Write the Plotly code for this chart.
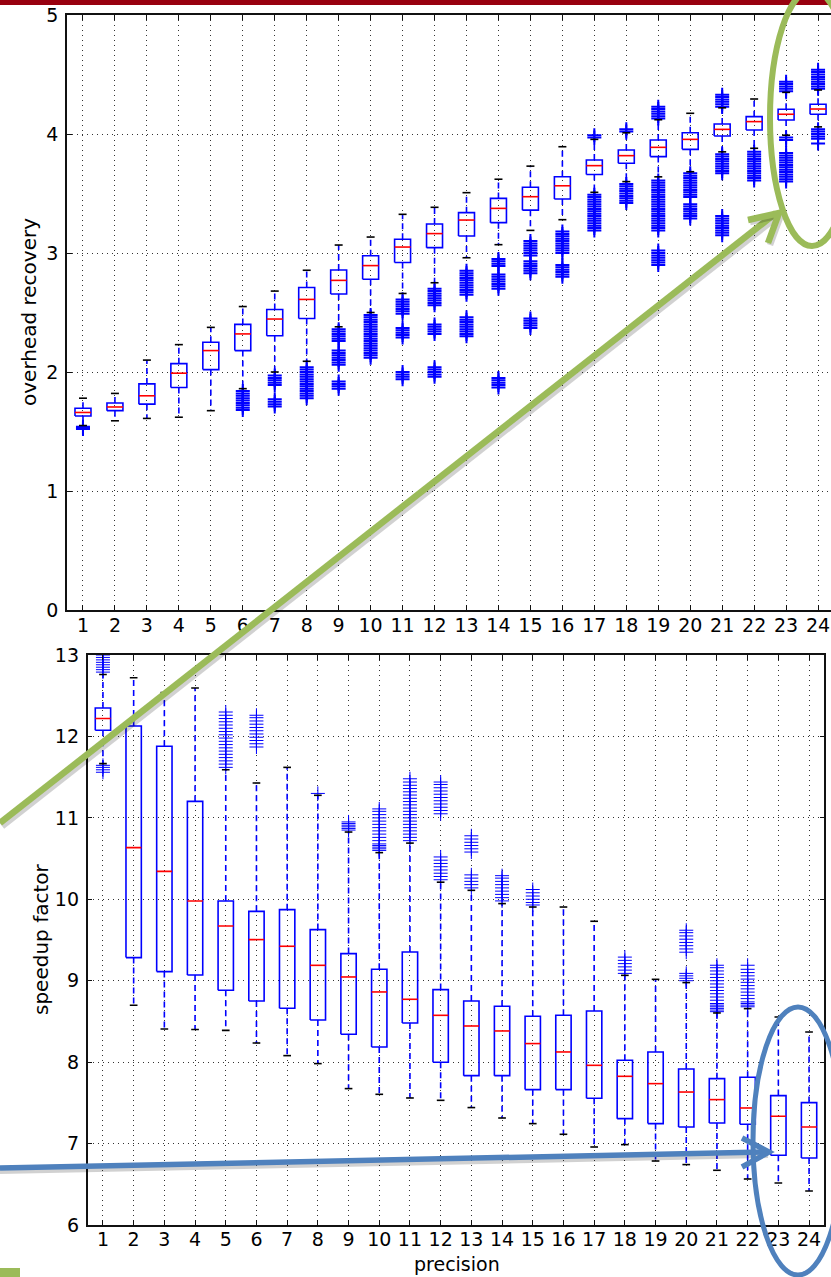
import plotly.graph_objects as go

W, H = 831, 1277

precision = list(range(1, 25))
tick_labels = [str(p) for p in precision]

# ---------------- top chart: overhead recovery ----------------
oh_low = [1.55, 1.59, 1.61, 1.62, 1.675, 1.86, 2.00, 2.09, 2.38, 2.50, 2.66, 2.75,
          2.96, 3.07, 3.19, 3.28, 3.51, 3.60, 3.64, 3.683, 3.85, 3.88, 3.99, 4.06]
oh_q1 = [1.63, 1.675, 1.73, 1.87, 2.02, 2.18, 2.305, 2.45, 2.655, 2.78, 2.92, 3.045,
         3.143, 3.255, 3.36, 3.454, 3.66, 3.754, 3.81, 3.871, 3.983, 4.034, 4.118, 4.166]
oh_med = [1.66, 1.706, 1.80, 1.99, 2.18, 2.32, 2.445, 2.61, 2.77, 2.894, 3.05, 3.163,
          3.277, 3.375, 3.473, 3.565, 3.734, 3.818, 3.888, 3.955, 4.039, 4.104, 4.166, 4.21]
oh_q3 = [1.695, 1.74, 1.90, 2.07, 2.25, 2.40, 2.525, 2.71, 2.857, 2.977, 3.115, 3.244,
         3.339, 3.459, 3.552, 3.641, 3.782, 3.866, 3.95, 4.011, 4.084, 4.146, 4.208, 4.25]
oh_high = [1.78, 1.82, 2.10, 2.23, 2.375, 2.55, 2.68, 2.855, 3.067, 3.134, 3.325, 3.384,
           3.507, 3.62, 3.73, 3.893, 3.955, 4.01, 4.12, 4.174, 4.22, 4.294, 4.35, 4.37]
oh_outliers = [
    [1.52, 1.53, 1.54],
    [],
    [],
    [],
    [],
    [1.68, 1.70, 1.72, 1.74, 1.76, 1.78, 1.80, 1.82, 1.84],
    [1.71, 1.73, 1.75, 1.77, 1.89, 1.91, 1.93, 1.95, 1.97],
    [1.78, 1.80, 1.82, 1.84, 1.86, 1.88, 1.90, 1.92, 1.94, 1.96, 1.98, 2.00, 2.02, 2.04],
    [1.86, 1.88, 1.90, 1.92, 2.06, 2.08, 2.10, 2.12, 2.14, 2.16, 2.18,
     2.26, 2.28, 2.30, 2.32, 2.34, 2.36],
    [2.12, 2.14, 2.16, 2.18, 2.20, 2.22, 2.24, 2.26, 2.28, 2.30, 2.32, 2.34, 2.36,
     2.38, 2.40, 2.42, 2.44, 2.46, 2.48],
    [1.94, 1.96, 1.98, 2.00, 2.29, 2.31, 2.33, 2.35, 2.37,
     2.49, 2.51, 2.53, 2.55, 2.57, 2.59, 2.61],
    [1.96, 1.98, 2.00, 2.02, 2.04, 2.32, 2.34, 2.36, 2.38, 2.40,
     2.56, 2.58, 2.60, 2.62, 2.64, 2.66, 2.68, 2.70],
    [2.30, 2.32, 2.34, 2.36, 2.38, 2.40, 2.42, 2.44, 2.46,
     2.65, 2.67, 2.69, 2.71, 2.73, 2.75, 2.77, 2.79, 2.81, 2.83, 2.85],
    [1.87, 1.89, 1.91, 1.93, 1.95, 2.70, 2.72, 2.74, 2.76, 2.78, 2.80, 2.82,
     2.89, 2.91, 2.93, 2.95],
    [2.37, 2.39, 2.41, 2.43, 2.45, 2.83, 2.85, 2.87, 2.89, 2.91, 2.93,
     2.98, 3.00, 3.02, 3.04, 3.06, 3.08, 3.10],
    [2.80, 2.82, 2.84, 2.86, 2.88, 2.90, 3.00, 3.02, 3.04, 3.06, 3.08, 3.10,
     3.12, 3.14, 3.16, 3.18],
    [3.19, 3.21, 3.23, 3.25, 3.27, 3.29, 3.31, 3.33, 3.35, 3.37, 3.39, 3.41,
     3.43, 3.45, 3.47, 3.49, 3.97, 3.99],
    [3.42, 3.44, 3.46, 3.48, 3.50, 3.52, 3.54, 3.56, 3.58, 4.02, 4.04],
    [2.90, 2.92, 2.94, 2.96, 2.98, 3.00, 3.02,
     3.19, 3.21, 3.23, 3.25, 3.27, 3.29, 3.31, 3.33, 3.35, 3.37, 3.39, 3.41,
     3.43, 3.45, 3.47, 3.49, 3.51, 3.53, 3.55, 3.57, 3.59, 3.61,
     4.13, 4.15, 4.17, 4.19, 4.21, 4.23],
    [3.29, 3.31, 3.33, 3.35, 3.37, 3.39, 3.41,
     3.47, 3.49, 3.51, 3.53, 3.55, 3.57, 3.59, 3.61, 3.63, 3.65, 3.67],
    [3.15, 3.17, 3.19, 3.21, 3.23, 3.25, 3.27, 3.29, 3.31,
     3.67, 3.69, 3.71, 3.73, 3.75, 3.77, 3.79, 3.81, 3.83,
     4.23, 4.25, 4.27, 4.29, 4.31, 4.33],
    [3.61, 3.63, 3.65, 3.67, 3.69, 3.71, 3.73, 3.75, 3.77, 3.79, 3.81, 3.83, 3.85],
    [3.60, 3.62, 3.64, 3.66, 3.68, 3.70, 3.72, 3.74, 3.76, 3.78, 3.80, 3.82, 3.84,
     3.95, 3.97, 4.36, 4.38, 4.40, 4.42, 4.44],
    [3.92, 3.96, 3.98, 4.00, 4.02, 4.04,
     4.38, 4.40, 4.42, 4.44, 4.46, 4.48, 4.50, 4.52, 4.54],
]

# ---------------- bottom chart: speedup factor ----------------
sp_low = [11.666, 8.698, 8.407, 8.40, 8.39, 8.235, 8.08, 7.982, 7.675, 7.605, 7.56, 7.531,
          7.442, 7.314, 7.245, 7.114, 6.958, 6.987, 6.786, 6.742, 6.672, 6.565, 6.516, 6.418]
sp_q1 = [12.075, 9.284, 9.112, 9.07, 8.882, 8.751, 8.661, 8.518, 8.342, 8.186, 8.48, 7.998,
         7.834, 7.834, 7.663, 7.663, 7.556, 7.306, 7.245, 7.204, 7.253, 7.237, 6.856, 6.823]
sp_med = [12.22, 10.634, 10.343, 9.979, 9.672, 9.505, 9.423, 9.189, 9.046, 8.862, 8.772, 8.575,
          8.444, 8.383, 8.228, 8.125, 7.961, 7.826, 7.736, 7.633, 7.54, 7.437, 7.335, 7.204]
sp_q3 = [12.35, 12.128, 11.879, 11.203, 9.979, 9.852, 9.873, 9.628, 9.333, 9.14, 9.353, 8.891,
         8.751, 8.686, 8.563, 8.575, 8.628, 8.023, 8.125, 7.916, 7.797, 7.814, 7.589, 7.503]
sp_high = [12.76, 12.72, 12.54, 12.595, 11.59, 11.428, 11.62, 11.277, 10.826, 10.573, 10.69, 10.21,
           10.11, 9.947, 9.905, 9.905, 9.73, 9.066, 9.017, 8.977, 8.604, 8.657, 8.555, 8.37]
sp_outliers = [
    [11.56, 11.59, 11.62, 11.645, 12.79, 12.82, 12.85, 12.88, 12.91, 12.94, 12.97, 13.0, 13.03],
    [],
    [],
    [],
    [11.62, 11.66, 11.70, 11.74, 11.78, 11.82, 11.86, 11.90, 11.94, 11.98, 12.02,
     12.06, 12.10, 12.14, 12.18, 12.22, 12.26, 12.30],
    [11.87, 11.91, 11.95, 11.99, 12.03, 12.07, 12.11, 12.15, 12.19, 12.23, 12.26],
    [],
    [11.30],
    [10.85, 10.87, 10.89, 10.91, 10.93, 10.95],
    [10.60, 10.62, 10.64, 10.66, 10.68, 10.72, 10.76, 10.80, 10.84, 10.88, 10.92,
     10.96, 11.00, 11.04, 11.08, 11.11],
    [10.72, 10.76, 10.80, 10.84, 10.88, 10.92, 10.96, 11.00, 11.04, 11.08, 11.12,
     11.16, 11.20, 11.24, 11.28, 11.32, 11.36, 11.40, 11.44, 11.48],
    [10.24, 10.28, 10.32, 10.36, 10.40, 10.44, 10.48, 10.52,
     11.05, 11.09, 11.13, 11.17, 11.21, 11.25, 11.29, 11.33, 11.37, 11.41, 11.44],
    [10.14, 10.18, 10.22, 10.26, 10.30, 10.58, 10.62, 10.66, 10.70, 10.74, 10.78],
    [9.98, 10.02, 10.06, 10.10, 10.14, 10.18, 10.22, 10.26, 10.29],
    [9.93, 9.96, 10.00, 10.04, 10.08, 10.12],
    [],
    [],
    [9.09, 9.13, 9.17, 9.21, 9.25, 9.29],
    [],
    [9.00, 9.03, 9.06, 9.09, 9.35, 9.39, 9.43, 9.47, 9.51, 9.55, 9.59, 9.62],
    [8.62, 8.64, 8.66, 8.68, 8.70, 8.72, 8.76, 8.80, 8.84, 8.88, 8.92, 8.96,
     9.00, 9.04, 9.08, 9.12, 9.16, 9.19],
    [8.68, 8.70, 8.72, 8.74, 8.78, 8.82, 8.86, 8.90, 8.94, 8.98, 9.02, 9.06,
     9.10, 9.14, 9.19],
    [],
    [],
]

BLUE = "#0000FF"
RED = "#FF0000"
FONT = "DejaVu Sans"

fig = go.Figure()


def add_boxplot(lo, q1, med, q3, hi, outl, xa, ya, out_lw):
    hw, cw = 0.25, 0.125
    ox, oy = [], []
    for p, vals in zip(precision, outl):
        ox += [p] * len(vals)
        oy += vals
    fig.add_trace(go.Scatter(x=ox, y=oy, mode="markers", xaxis=xa, yaxis=ya,
                             marker=dict(symbol="cross-thin", size=10,
                                         line=dict(color=BLUE, width=out_lw)),
                             showlegend=False, hoverinfo="skip"))
    wx, wy = [], []
    for p, a, b, c, d in zip(precision, lo, q1, q3, hi):
        wx += [p, p, None, p, p, None]
        wy += [c, d, None, b, a, None]
    fig.add_trace(go.Scatter(x=wx, y=wy, mode="lines", xaxis=xa, yaxis=ya,
                             line=dict(color=BLUE, width=1.6, dash="6px,4px"),
                             showlegend=False, hoverinfo="skip"))
    bx, by = [], []
    for p, b, c in zip(precision, q1, q3):
        bx += [p - hw, p + hw, p + hw, p - hw, p - hw, None]
        by += [b, b, c, c, b, None]
    fig.add_trace(go.Scatter(x=bx, y=by, mode="lines", xaxis=xa, yaxis=ya,
                             line=dict(color=BLUE, width=1.6),
                             showlegend=False, hoverinfo="skip"))
    cx, cy = [], []
    for p, a, d in zip(precision, lo, hi):
        cx += [p - cw, p + cw, None, p - cw, p + cw, None]
        cy += [a, a, None, d, d, None]
    fig.add_trace(go.Scatter(x=cx, y=cy, mode="lines", xaxis=xa, yaxis=ya,
                             line=dict(color="black", width=1.6),
                             showlegend=False, hoverinfo="skip"))
    mx, my = [], []
    for p, m in zip(precision, med):
        mx += [p - hw, p + hw, None]
        my += [m, m, None]
    fig.add_trace(go.Scatter(x=mx, y=my, mode="lines", xaxis=xa, yaxis=ya,
                             line=dict(color=RED, width=1.6),
                             showlegend=False, hoverinfo="skip"))


add_boxplot(oh_low, oh_q1, oh_med, oh_q3, oh_high, oh_outliers, "x", "y", 2)
add_boxplot(sp_low, sp_q1, sp_med, sp_q3, sp_high, sp_outliers, "x2", "y2", 1)


def px(x):
    return x / W


def py(y):
    return 1 - y / H


axis_common = dict(
    showgrid=True, gridcolor="#333333", gridwidth=1, griddash="1px,4px",
    showline=True, linecolor="#111111", linewidth=1.6,
    ticks="inside", ticklen=5, tickcolor="#111111", tickwidth=1,
    zeroline=False, automargin=False,
    tickfont=dict(family=FONT, size=19, color="black"),
)

top_x_right = 0.5 + (W - 67) / 31.96

fig.update_layout(
    template="none",
    width=W, height=H, autosize=False,
    margin=dict(l=0, r=0, t=0, b=0, pad=0),
    paper_bgcolor="white", plot_bgcolor="white",
    showlegend=False,
    xaxis=dict(domain=[px(67), 1.0], range=[0.5, top_x_right], anchor="y",
               tickvals=precision, ticktext=tick_labels, mirror="ticks",
               ticklabelstandoff=-3, **axis_common),
    yaxis=dict(domain=[py(610), py(15)], range=[0, 5], dtick=1, anchor="x",
               mirror=False, ticklabelstandoff=3, **axis_common),
    xaxis2=dict(domain=[px(87.6), px(824.4)], range=[0.5, 24.5], anchor="y2",
                tickvals=precision, ticktext=tick_labels, mirror="ticks",
                ticklabelstandoff=-4, **axis_common),
    yaxis2=dict(domain=[py(1225), py(655)], range=[6, 13], dtick=1, anchor="x2",
                mirror="ticks", ticklabelstandoff=3, **axis_common),
)

title_font = dict(family=FONT, size=20, color="black")
fig.add_annotation(x=px(29), y=py(312), xref="paper", yref="paper",
                   xanchor="center", yanchor="middle",
                   text="overhead recovery", textangle=-90, showarrow=False,
                   font=title_font)
fig.add_annotation(x=px(41), y=py(939), xref="paper", yref="paper",
                   xanchor="center", yanchor="middle",
                   text="speedup factor", textangle=-90, showarrow=False,
                   font=title_font)
fig.add_annotation(x=px(457), y=py(1264), xref="paper", yref="paper",
                   xanchor="center", yanchor="middle",
                   text="precision", showarrow=False,
                   font=dict(family=FONT, size=19, color="black"))

GREEN = "#9BBB59"
SBLUE = "#4F81BD"
SHADOW = "rgba(0,0,0,0.18)"


def line(x0, y0, x1, y1, color, width):
    fig.add_shape(type="line", xref="paper", yref="paper",
                  x0=px(x0), y0=py(y0), x1=px(x1), y1=py(y1),
                  line=dict(color=color, width=width))


def path(points, color, width):
    d = "M " + " L ".join(f"{px(a):.5f},{py(b):.5f}" for a, b in points)
    fig.add_shape(type="path", xref="paper", yref="paper", path=d,
                  line=dict(color=color, width=width))


# header bar and footer accent
fig.add_shape(type="rect", xref="paper", yref="paper", x0=0, x1=1, y0=py(5), y1=1.0,
              fillcolor="#98000F", line=dict(width=0))
fig.add_shape(type="rect", xref="paper", yref="paper", x0=0, x1=px(20), y0=0, y1=py(1268),
              fillcolor=GREEN, line=dict(width=0))

# green arrow + ellipse
line(2, 826, 778, 216, SHADOW, 7)
line(0, 823, 776, 213, GREEN, 6.5)
path([(750, 222), (781, 215), (770, 245)], SHADOW, 6.5)
path([(748, 220), (779, 213), (768, 243)], GREEN, 6.5)
fig.add_shape(type="circle", xref="paper", yref="paper",
              x0=px(770), x1=px(854), y0=py(246), y1=py(-10),
              line=dict(color=GREEN, width=6))

# blue arrow + ellipse
line(0, 1171, 768, 1155, SHADOW, 6)
line(0, 1168, 766, 1152, SBLUE, 5.5)
path([(742, 1138), (769, 1152), (742, 1167)], SBLUE, 5.5)
fig.add_shape(type="circle", xref="paper", yref="paper",
              x0=px(753), x1=px(843), y0=py(1275), y1=py(1007),
              line=dict(color=SBLUE, width=5))

fig.write_html(
    "out.html",
    config={"responsive": False, "displayModeBar": False},
    post_script="document.body.style.margin='0';document.body.style.overflow='hidden';",
)
